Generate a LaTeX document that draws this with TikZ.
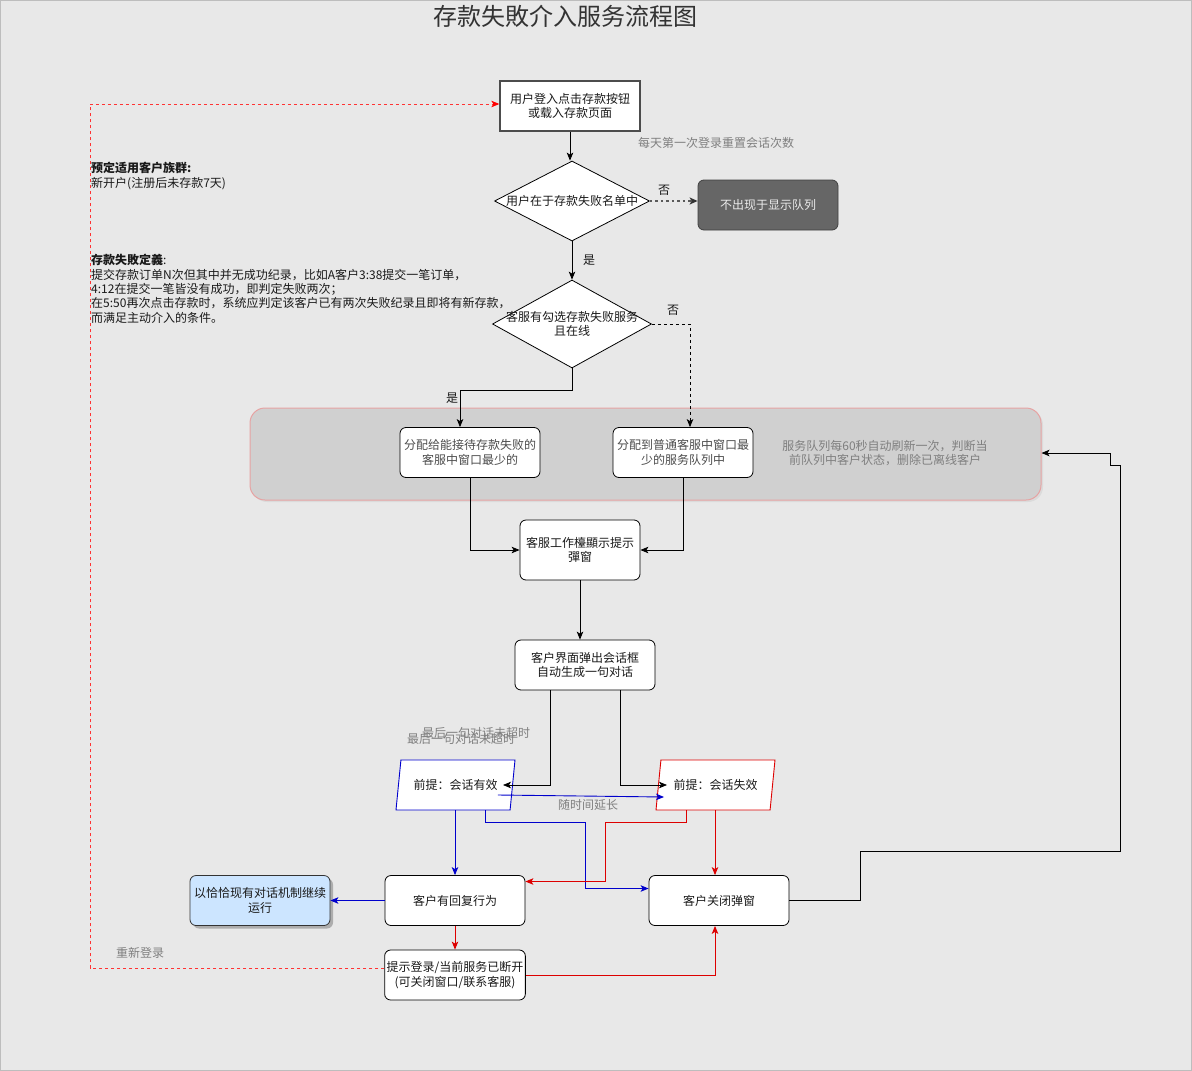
\documentclass[tikz,border=0pt]{standalone}
\usepackage{fontspec}
\setmainfont{Noto Sans CJK SC}
\usetikzlibrary{arrows.meta,shapes.geometric,calc,shadows}
\definecolor{bgc}{HTML}{E8E8E8}
\definecolor{framec}{HTML}{BDBDBD}
\definecolor{txtc}{HTML}{1A1A1A}
\definecolor{greytxt}{HTML}{7F7F7F}
\definecolor{bandfill}{HTML}{D0D0D0}
\definecolor{banddraw}{HTML}{E6A3A3}
\definecolor{darkbox}{HTML}{666666}
\definecolor{lightblue}{HTML}{CCE5FF}
\definecolor{myblue}{HTML}{0000CC}
\definecolor{myred}{HTML}{DD0000}
\definecolor{dashred}{HTML}{FF3333}
\tikzset{
  box/.style={draw=black, fill=white, rounded corners=6pt, minimum width=140pt, minimum height=50pt,
    align=center, text=txtc, inner sep=2pt, line width=0.8pt},
  dia/.style={diamond, draw=black, fill=white, minimum width=155pt, minimum height=80pt, inner sep=0pt, line width=0.8pt},
  para/.style={trapezium, trapezium left angle=72, trapezium right angle=108, trapezium stretches body,
    minimum width=119pt, minimum height=50pt, fill=white, line width=0.9pt, inner sep=2pt, text=txtc},
  plain/.style={inner sep=0pt, text=txtc},
  greylabel/.style={inner sep=0pt, text=greytxt},
  tip/.style={-{Stealth[length=8pt,width=6.5pt,inset=2pt]}},
  arr/.style={draw=black, line width=0.8pt, tip},
  dasharr/.style={draw=black, line width=0.8pt, dash pattern=on 3pt off 3pt, tip},
  dotarr/.style={draw=black!65, line width=1.6pt, dash pattern=on 2.5pt off 3pt, -{Stealth[length=8pt,width=7pt,inset=2pt,black!80]}},
  bluearr/.style={draw=myblue, line width=0.9pt, -{Stealth[length=8pt,width=6.5pt,inset=2pt,myblue]}},
  redarr/.style={draw=myred, line width=0.9pt, -{Stealth[length=8pt,width=6.5pt,inset=2pt,myred]}},
  reddash/.style={draw=dashred, line width=0.9pt, dash pattern=on 3pt off 3pt, -{Stealth[length=8pt,width=6.5pt,inset=2pt,red]}},
}
\begin{document}
\begin{tikzpicture}[x=1pt,y=-1pt, font=\fontsize{12}{14.4}\selectfont]
\path[fill=bgc, draw=framec, line width=1pt] (0.5,0.5) rectangle (1191.5,1070.5);
\useasboundingbox (0,0) rectangle (1192,1071);

% title
\node[text=black!80, inner sep=0pt, font=\fontsize{24}{28}\selectfont] (title) at (565,16) {存款失敗介入服务流程图};

% left notes
\node[plain, anchor=north west, align=left] (note1) at (91,162)
  {\textbf{预定适用客户族群:}\\新开户(注册后未存款7天)};
\node[plain, anchor=north west, align=left] (note2) at (91,254)
  {\textbf{存款失敗定義}:\\
   提交存款订单N次但其中并无成功纪录，比如A客户3:38提交一笔订单，\\
   4:12在提交一笔皆没有成功，即判定失败两次；\\
   在5:50再次点击存款时，系统应判定该客户已有两次失败纪录且即将有新存款，\\
   而满足主动介入的条件。};

% band
\node[draw=banddraw, fill=bandfill, rounded corners=15pt, minimum width=791pt, minimum height=92pt, line width=1pt,
      drop shadow={shadow xshift=2pt, shadow yshift=-2pt, opacity=0.12}] (band) at (645.5,454) {};
\node[greylabel, align=center] (bandtxt) at (885,453)
  {服务队列每60秒自动刷新一次，判断当\\前队列中客户状态，删除已离线客户};

% nodes
\node[box, rounded corners=0pt, draw=black!70, line width=1.3pt] (n1) at (570,106) {用户登入点击存款按钮\\或载入存款页面};
\node[greylabel, anchor=west] (reset) at (638,143) {每天第一次登录重置会话次数};

\node[dia] (d1) at (572,201) {};
\node[plain] (d1t) at (d1) {用户在于存款失败名单中};
\node[box, fill=darkbox, draw=black!75, text=white!92!black] (n2) at (768,205) {不出现于显示队列};

\node[dia, minimum width=159pt, minimum height=88pt] (d2) at (572,324) {};
\node[plain, align=center] (d2t) at (d2) {客服有勾选存款失败服务\\且在线};

\node[box, text=black!70] (n3) at (470,452.5) {分配给能接待存款失败的\\客服中窗口最少的};
\node[box, text=black!70] (n4) at (683,452.5) {分配到普通客服中窗口最\\少的服务队列中};

\node[box, minimum width=120pt, minimum height=60pt] (n5) at (580,550) {客服工作檯顯示提示\\彈窗};
\node[box] (n6) at (585,665) {客户界面弹出会话框\\自动生成一句对话};

\node[para, draw=myblue] (p1) at (455.5,785) {前提：会话有效};
\node[para, draw=myred] (p2) at (715.5,785) {前提：会话失效};

\node[greylabel] (lab1) at (476,733) {最后一句对话未超时};
\node[greylabel] (lab2) at (461,739) {最后一句对话未超时};

\node[box] (n7) at (455,900.5) {客户有回复行为};
\node[box] (n8) at (719,900.5) {客户关闭弹窗};
\node[box, fill=lightblue, draw=black!80,
      drop shadow={shadow xshift=3pt, shadow yshift=-3pt, opacity=0.45, fill=black!60}] (n9) at (260,900.5) {以恰恰现有对话机制继续\\运行};
\node[box] (n10) at (455,975) {提示登录/当前服务已断开\\(可关闭窗口/联系客服)};

% labels
\node[plain] (no1) at (664,190) {否};
\node[plain] (yes1) at (589,260) {是};
\node[plain] (no2) at (673,310) {否};
\node[plain] (yes2) at (452,398) {是};
\node[greylabel] (later) at (588,805) {随时间延长};
\node[greylabel] (relog) at (140,953) {重新登录};

% coordinates
\coordinate (lp) at (90,968);
\coordinate (r1) at (860,851);
\coordinate (r2) at (1120,465);
\coordinate (r3) at (1110,453);

% connectors
\draw[arr] (n1.south) -- (n1.south |- d1.north);
\draw[dotarr] (d1.east) -- (d1.east -| n2.west);
\draw[arr] (d1.south) -- (d2.north);
\draw[arr] (d2.south) -- ++(0,22) -| ([xshift=-10pt]n3.north);
\draw[dasharr] (d2.east) -| ([xshift=7pt]n4.north);
\draw[arr] (n3.south) |- (n5.west);
\draw[arr] (n4.south) |- (n5.east);
\draw[arr] (n5.south) -- (n5.south |- n6.north);
\draw[arr] ([xshift=-35pt]n6.south) |- ([xshift=-10pt]p1.east);
\draw[arr] ([xshift=35pt]n6.south) |- ([xshift=9pt]p2.west);
\draw[bluearr] ($(p1.east)+(-15,10)$) -- ($(p2.west)+(6,12)$);
\draw[bluearr] (n7.north |- p1.south) -- (n7.north);
\draw[bluearr] ($(p1.south)+(29.5,0)$) |- ($(p1.south)+(129.5,12)$) |- ([yshift=12pt]n8.west);
\draw[redarr] ($(p2.south)+(-29.5,0)$) |- ($(p2.south)+(-110.5,12)$) |- ([yshift=19pt]n7.east);
\draw[redarr] ([xshift=-4pt]n8.north |- p2.south) -- ([xshift=-4pt]n8.north);
\draw[bluearr] (n7.west) -- (n9.east);
\draw[redarr] (n7.south) -- (n10.north);
\draw[redarr] (n10.east) -| ([xshift=-4pt]n8.south);
\draw[reddash] ([yshift=7pt]n10.west) -- (lp) |- ([yshift=2pt]n1.west);
\draw[arr] (n8.east) -| (r1) -| (r2) -| (r3) -- (r3 -| band.east);
\end{tikzpicture}
\end{document}
